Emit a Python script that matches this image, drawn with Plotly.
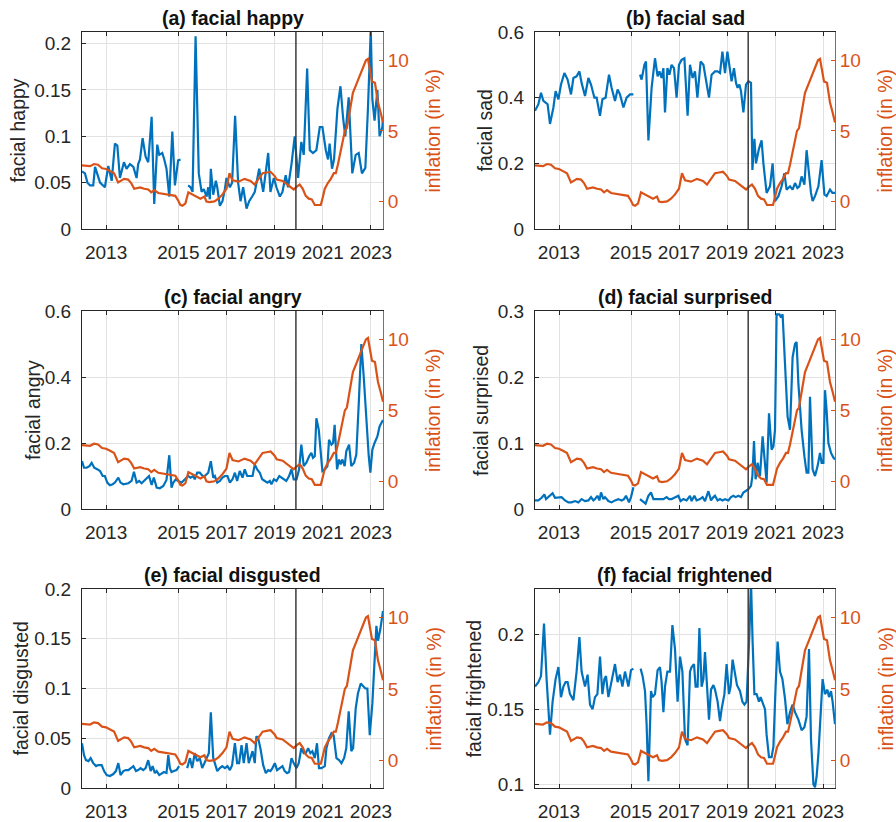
import plotly.graph_objects as go

# ---------------- data (month index: 0 = start of sample) ----------------
tick_pos = [12, 48, 72, 96, 120, 144]
tick_lab = ["2013", "2015", "2017", "2019", "2021", "2023"]
event_t = 106.6

infl_t = [0, 2, 4, 6, 8, 10, 12, 14, 16, 18, 19.5, 21, 23, 24.5, 26, 27.5, 29, 31, 33, 34.5,
          36, 38, 40, 42, 45, 46.5, 48, 49, 50, 51.5, 53, 55, 57, 59, 61, 62, 63.5, 66, 68, 70,
          72, 73.5, 75, 78, 81, 84, 86, 88, 90, 92, 94, 96, 97, 100, 102.5, 104, 105.5, 107, 108.5, 110,
          111.5, 113, 114.5, 116, 119, 120, 121, 122.5, 124, 125.5, 126.5, 127.5, 128.5, 130, 131, 132, 133, 134, 135, 137,
          138.5, 140, 141.5, 142.5, 143.5, 144.5, 146, 147.5, 149, 150]
infl_v = [2.55, 2.5, 2.5, 2.65, 2.6, 2.35, 2.3, 2.15, 2.0, 1.35, 1.45, 1.6, 1.55, 1.3, 0.9, 0.95, 1.0, 0.9, 0.85, 0.65,
          0.8, 0.6, 0.55, 0.5, 0.45, 0.4, 0.05, -0.25, -0.3, -0.15, 0.65, 0.5, 0.4, 0.2, 0.35, 0.0, -0.05, 0.0, 0.2, 0.5,
          0.9, 2.0, 1.5, 1.4, 1.6, 1.45, 1.2, 1.6, 2.0, 2.05, 2.1, 1.8, 1.55, 1.45, 1.2, 1.05, 0.85, 1.05, 1.2, 0.9,
          0.4, 0.2, 0.15, -0.25, -0.25, 0.3, 0.9, 1.3, 1.6, 2.0, 2.0, 2.6, 3.3, 4.5, 5.0, 5.2, 6.0, 7.0, 7.7, 8.4,
          8.9, 9.4, 10.0, 10.1, 9.3, 8.5, 8.4, 7.0, 6.2, 5.6]

happy_t = [0, 1.5, 2.7, 4.0, 5.6, 6.5, 9.0, 11.4, 13.1, 14.8, 16.4, 17.6, 18.9, 20.9, 22.2, 23.9, 25.6, 27.2, 28.0, 28.9,
           30.2, 31.7, 33.0, 34.7, 36.0, 37.5, 38.5, 40.0, 41.0, 42.1, 43.5, 45.0, 46.3, 47.9, 49.1, 51.0, 52.9, 54.1, 55.1, 56.6,
           58.2, 59.6, 60.7, 62.1, 62.9, 63.7, 64.2, 65.4, 66.7, 67.4, 68.7, 70.0, 71.2, 72.0, 73.7, 74.8, 76.3, 77.8, 79.0, 80.3,
           82.0, 83.3, 84.8, 86.1, 88.3, 89.4, 90.3, 92.8, 93.9, 95.6, 96.9, 98.6, 99.9, 101.5, 102.7, 104.4, 106.0, 107.7, 109.3, 110.5,
           112.2, 113.5, 115.1, 116.8, 118.5, 119.8, 121.5, 122.6, 123.4, 124.6, 125.6, 127.3, 128.8, 130.1, 131.2, 132.9, 134.7, 136.4, 137.9, 139.5,
           141.2, 142.5, 143.9, 144.7, 145.8, 147.2, 148.3, 149.7, 150.0]
happy_v = [0.062, 0.060, 0.050, 0.047, 0.047, 0.067, 0.050, 0.045, 0.068, 0.052, 0.092, 0.090, 0.055, 0.072, 0.065, 0.070, 0.067, 0.055, 0.070, 0.075,
           0.098, 0.078, 0.072, 0.121, 0.027, 0.091, 0.080, 0.082, 0.075, 0.065, 0.035, 0.105, 0.047, 0.074, 0.075, None, 0.047, 0.045, 0.040, 0.208,
           0.060, 0.040, 0.043, 0.035, 0.045, 0.032, 0.065, 0.037, 0.052, 0.045, 0.025, 0.030, 0.043, 0.055, 0.045, 0.050, 0.122, 0.050, 0.030, 0.045,
           0.022, 0.030, 0.035, 0.040, 0.065, 0.050, 0.040, 0.082, 0.040, 0.055, 0.045, 0.035, 0.040, 0.058, 0.045, 0.070, 0.100, 0.055, 0.094, 0.080,
           0.173, 0.085, 0.082, 0.085, 0.110, 0.110, 0.085, 0.075, 0.092, 0.065, 0.075, 0.130, 0.154, 0.120, 0.100, 0.142, 0.060, 0.080, 0.082, 0.060,
           0.066, 0.130, 0.215, 0.140, 0.117, 0.150, 0.100, 0.110, 0.120]

sad_t = [0, 1.7, 3.0, 4.2, 5.3, 6.3, 7.5, 9.2, 10.3, 11.7, 13.0, 14.7, 16.3, 18.0, 19.2, 20.8, 22.2, 23.3, 25.0, 26.7,
         28.0, 29.7, 30.8, 32.5, 33.7, 35.3, 37.0, 38.3, 40.0, 41.3, 42.5, 44.2, 45.8, 47.5, 49.2, 51.0, 52.5, 53.3, 54.7, 55.5,
         56.7, 58.3, 60.0, 61.3, 62.2, 63.3, 64.2, 65.0, 66.2, 67.2, 68.3, 69.5, 70.8, 72.0, 73.3, 74.7, 76.3, 77.5, 78.8, 80.0,
         81.2, 82.8, 84.2, 85.8, 87.0, 88.3, 90.0, 91.3, 92.5, 93.7, 95.0, 96.2, 97.2, 98.3, 99.5, 100.5, 101.3, 102.2, 103.0, 104.2,
         105.5, 106.7, 108.0, 108.7, 109.7, 110.5, 112.0, 113.3, 114.2, 115.8, 117.5, 118.8, 120.0, 121.7, 123.3, 124.7, 125.8, 127.5, 128.8, 130.0,
         131.2, 132.2, 133.3, 134.7, 135.8, 137.2, 138.0, 138.8, 140.0, 141.7, 143.3, 144.7, 145.8, 147.5, 148.7, 150.0]
sad_v = [0.36, 0.38, 0.415, 0.39, 0.385, 0.38, 0.32, 0.37, 0.42, 0.395, 0.44, 0.475, 0.455, 0.41, 0.46, 0.465, 0.48, 0.445, 0.405, 0.46,
         0.44, 0.40, 0.40, 0.345, 0.395, 0.40, 0.47, 0.43, 0.39, 0.425, 0.41, 0.37, 0.40, 0.41, 0.41, None, 0.47, 0.455, 0.50, 0.51,
         0.27, 0.43, 0.52, 0.465, 0.48, 0.46, 0.49, 0.355, 0.49, 0.47, 0.50, 0.49, 0.40, 0.50, 0.515, 0.52, 0.345, 0.50, 0.46, 0.48,
         0.40, 0.51, 0.50, 0.435, 0.40, 0.47, 0.48, 0.48, 0.475, 0.54, 0.475, 0.54, 0.49, 0.45, 0.49, 0.445, 0.43, 0.44, 0.42, 0.355,
         0.44, 0.45, 0.445, 0.18, 0.275, 0.20, 0.245, 0.27, 0.20, 0.11, 0.13, 0.20, 0.085, 0.10, 0.13, 0.17, 0.12, 0.13, 0.12, 0.14,
         0.125, 0.13, 0.16, 0.135, 0.24, 0.15, 0.11, 0.085, 0.10, 0.13, 0.21, 0.105, 0.10, 0.12, 0.11, 0.11]

angry_t = [0, 1.0, 2.3, 3.7, 4.8, 6.1, 7.8, 9.0, 10.3, 11.4, 12.6, 13.9, 15.3, 16.4, 18.1, 19.2, 20.6, 23.1, 24.7, 25.9,
           27.2, 28.5, 29.7, 30.9, 32.2, 33.4, 34.7, 35.8, 37.2, 38.8, 40.5, 42.1, 43.5, 44.6, 45.5, 46.8, 47.9, 49.6, 51.3, 52.9,
           54.1, 55.4, 56.2, 57.4, 58.7, 60.1, 61.2, 62.9, 64.2, 65.4, 66.2, 67.4, 68.7, 70.0, 71.2, 72.5, 73.7, 75.0, 76.2, 77.3,
           78.6, 80.0, 81.1, 82.3, 83.6, 85.0, 86.1, 87.3, 88.6, 89.8, 91.1, 92.4, 93.6, 94.4, 95.6, 96.9, 98.3, 99.4, 100.5, 101.8,
           103.2, 104.4, 105.5, 106.9, 108.2, 109.3, 110.5, 111.8, 113.2, 114.3, 115.1, 116.0, 116.8, 118.0, 119.0, 119.8, 121.0, 122.3, 123.1, 124.3,
           125.1, 125.9, 127.1, 128.1, 128.9, 129.7, 130.9, 131.7, 133.1, 134.2, 135.6, 136.7, 138.0, 139.2, 140.4, 141.7, 142.9, 143.7, 144.7, 145.8,
           147.2, 148.3, 150.0]
angry_v = [0.145, 0.125, 0.125, 0.13, 0.14, 0.125, 0.12, 0.115, 0.10, 0.10, 0.08, 0.072, 0.075, 0.08, 0.095, 0.08, 0.075, 0.078, 0.085, 0.113,
           0.08, 0.085, 0.078, 0.085, 0.09, 0.10, 0.073, 0.095, 0.065, 0.063, 0.07, 0.088, 0.163, 0.065, 0.08, 0.09, 0.085, 0.08, 0.09, 0.10,
           0.095, 0.10, 0.09, 0.11, 0.11, 0.10, 0.10, 0.11, 0.145, 0.095, 0.10, 0.08, 0.085, 0.095, 0.10, 0.10, 0.08, 0.09, 0.11, 0.085,
           0.115, 0.095, 0.12, 0.10, 0.10, 0.10, 0.135, 0.12, 0.11, 0.09, 0.085, 0.08, 0.085, 0.075, 0.09, 0.085, 0.10, 0.095, 0.09, 0.085,
           0.10, 0.12, 0.09, 0.09, 0.12, 0.195, 0.13, 0.14, 0.16, 0.17, 0.155, 0.16, 0.275, 0.24, 0.17, 0.115, 0.12, 0.13, 0.21, 0.195,
           0.20, 0.255, 0.12, 0.15, 0.135, 0.15, 0.13, 0.175, 0.195, 0.13, 0.14, 0.165, 0.33, 0.50, 0.40, 0.27, 0.16, 0.11, 0.18, 0.20,
           0.22, 0.25, 0.27]

surprised_t = [0, 1.7, 3.3, 4.7, 5.5, 6.7, 7.5, 8.8, 10.0, 11.7, 13.3, 15.0, 16.7, 18.3, 20.0, 21.7, 23.3, 25.0, 26.7, 28.0,
               29.2, 30.0, 31.2, 32.2, 33.0, 34.2, 35.0, 36.7, 38.3, 40.0, 41.7, 43.3, 44.5, 45.5, 47.0, 48.0, 49.2, 51.0, 52.5, 53.8,
               55.3, 56.7, 58.0, 59.2, 60.8, 62.5, 64.2, 65.8, 67.0, 68.3, 70.0, 71.7, 72.8, 74.2, 75.8, 77.5, 78.3, 79.7, 80.8, 82.5,
               83.8, 85.0, 86.7, 88.0, 89.2, 90.0, 91.3, 92.5, 93.7, 95.0, 96.7, 98.0, 99.2, 100.3, 101.7, 103.0, 104.2, 105.5, 106.7, 108.0,
               108.7, 109.5, 110.3, 111.3, 112.5, 113.8, 115.0, 115.8, 117.0, 118.3, 119.2, 120.0, 120.8, 122.2, 123.0, 123.8, 125.0, 126.3, 127.5, 128.8,
               130.0, 130.8, 131.7, 133.3, 134.7, 135.8, 136.7, 137.5, 138.8, 140.0, 141.3, 142.5, 143.3, 144.2, 145.0, 145.8, 146.7, 148.0, 149.2, 150.0]
surprised_v = [0.013, 0.013, 0.017, 0.022, 0.015, 0.018, 0.020, 0.024, 0.017, 0.018, 0.018, 0.013, 0.010, 0.010, 0.012, 0.010, 0.015, 0.012, 0.013, 0.018,
               0.013, 0.015, 0.020, 0.013, 0.025, 0.015, 0.018, 0.012, 0.010, 0.013, 0.015, 0.013, 0.015, 0.020, 0.010, 0.018, 0.033, None, 0.015, 0.012,
               0.008, 0.020, 0.025, 0.015, 0.015, 0.015, 0.015, 0.018, 0.015, 0.015, 0.018, 0.020, 0.012, 0.015, 0.013, 0.020, 0.012, 0.020, 0.013, 0.015,
               0.018, 0.012, 0.027, 0.013, 0.018, 0.020, 0.013, 0.015, 0.013, 0.015, 0.013, 0.018, 0.020, 0.018, 0.020, 0.018, 0.025, 0.028, 0.030, 0.035,
               0.050, 0.103, 0.045, 0.070, 0.050, 0.110, 0.070, 0.040, 0.145, 0.090, 0.095, 0.120, 0.295, 0.295, 0.290, 0.295, 0.220, 0.140, 0.120, 0.230,
               0.250, 0.253, 0.190, 0.120, 0.080, 0.055, 0.055, 0.170, 0.060, 0.050, 0.065, 0.085, 0.070, 0.070, 0.180, 0.150, 0.100, 0.085, 0.078, 0.075]

disgusted_t = [0, 1.0, 2.0, 3.2, 4.3, 5.6, 7.0, 8.1, 9.8, 11.0, 12.3, 13.9, 15.6, 16.9, 18.1, 19.2, 20.6, 21.9, 23.1, 24.4,
               25.6, 26.9, 28.0, 29.2, 30.5, 31.7, 33.0, 34.2, 35.2, 36.3, 37.2, 38.5, 39.7, 40.8, 42.1, 43.0, 43.8, 44.6, 45.8, 47.1,
               48.4, 50.4, 52.4, 53.8, 54.9, 56.2, 57.4, 58.7, 59.9, 60.9, 62.1, 63.2, 64.2, 65.4, 66.2, 67.4, 68.7, 69.9, 71.2, 72.5,
               73.7, 74.8, 76.2, 77.3, 78.3, 79.5, 80.6, 82.0, 83.1, 84.0, 85.0, 86.1, 86.9, 87.8, 88.9, 90.3, 91.6, 92.8, 93.9, 94.9,
               96.1, 97.2, 98.6, 99.9, 101.0, 102.2, 103.2, 104.4, 105.5, 106.9, 108.0, 109.3, 110.5, 111.5, 112.7, 113.8, 114.8, 116.0, 117.1, 118.1,
               119.3, 121.0, 121.8, 123.1, 124.3, 125.4, 126.8, 128.1, 129.3, 130.6, 131.7, 132.9, 134.2, 135.1, 136.4, 137.5, 138.9, 140.0, 141.2, 142.2,
               143.4, 144.7, 145.8, 146.7, 147.5, 148.7, 150.0]
disgusted_v = [0.045, 0.033, 0.028, 0.027, 0.030, 0.025, 0.022, 0.023, 0.023, 0.017, 0.013, 0.012, 0.014, 0.017, 0.025, 0.013, 0.017, 0.018, 0.018, 0.020,
               0.022, 0.017, 0.018, 0.020, 0.018, 0.020, 0.028, 0.017, 0.022, 0.015, 0.017, 0.013, 0.015, 0.016, 0.015, 0.033, 0.020, 0.016, 0.017, 0.018,
               0.022, None, 0.020, 0.030, 0.020, 0.035, 0.027, 0.030, 0.020, 0.025, 0.030, 0.035, 0.076, 0.030, 0.025, 0.017, 0.020, 0.022, 0.020, 0.022,
               0.018, 0.023, 0.045, 0.025, 0.025, 0.043, 0.025, 0.045, 0.025, 0.030, 0.037, 0.025, 0.052, 0.050, 0.040, 0.023, 0.015, 0.018, 0.017, 0.020,
               0.025, 0.018, 0.020, 0.022, 0.017, 0.015, 0.016, 0.030, 0.025, 0.020, 0.025, 0.040, 0.035, 0.035, 0.040, 0.035, 0.037, 0.030, 0.045, 0.020,
               0.020, 0.022, 0.040, 0.050, 0.055, 0.053, 0.030, 0.028, 0.025, 0.030, 0.040, 0.077, 0.037, 0.040, 0.080, 0.095, 0.105, 0.103, 0.100, 0.100,
               0.053, 0.085, 0.125, 0.163, 0.148, 0.160, 0.178]

frightened_t = [0, 1.7, 3.0, 4.5, 5.8, 7.5, 8.8, 10.3, 11.7, 13.0, 14.2, 15.3, 16.3, 17.5, 19.2, 20.8, 22.2, 23.3, 25.0, 26.3,
                27.5, 28.8, 30.0, 31.2, 32.5, 33.7, 34.7, 35.5, 36.7, 38.3, 40.0, 41.3, 42.5, 43.7, 45.0, 46.7, 48.0, 49.2, 51.0, 52.8,
                53.8, 55.0, 55.8, 56.7, 58.0, 58.8, 60.0, 61.3, 62.5, 63.3, 64.2, 65.0, 66.2, 67.5, 68.7, 70.0, 71.3, 72.5, 73.7, 75.0,
                76.3, 77.5, 78.3, 79.5, 80.3, 81.3, 82.2, 83.3, 84.2, 85.0, 85.8, 87.0, 88.0, 89.2, 90.0, 91.3, 92.5, 93.3, 94.7, 95.8,
                97.0, 97.8, 98.8, 100.0, 101.0, 102.5, 103.7, 104.7, 105.8, 107.2, 108.0, 108.8, 109.7, 110.8, 112.0, 112.8, 113.7, 115.0, 115.8, 117.0,
                118.3, 119.2, 120.3, 121.3, 122.5, 123.7, 125.0, 126.2, 127.5, 128.8, 130.0, 131.7, 133.3, 134.7, 135.8, 137.0, 138.0, 139.2, 140.0, 140.8,
                141.7, 142.8, 143.8, 145.0, 146.2, 147.0, 148.0, 148.8, 150.0]
frightened_v = [0.165, 0.168, 0.172, 0.207, 0.170, 0.133, 0.155, 0.170, 0.178, 0.158, 0.165, 0.168, 0.168, 0.160, 0.156, 0.175, 0.198, 0.175, 0.165, 0.173,
                0.153, 0.150, 0.158, 0.160, 0.185, 0.160, 0.170, 0.172, 0.158, 0.168, 0.180, 0.168, 0.173, 0.165, 0.175, 0.165, 0.176, 0.177, None, 0.177,
                0.172, 0.162, 0.140, 0.102, 0.162, 0.158, 0.160, 0.176, 0.178, 0.168, 0.148, 0.165, 0.175, 0.175, 0.206, 0.190, 0.155, 0.185, 0.175, 0.130,
                0.126, 0.175, 0.178, 0.180, 0.165, 0.165, 0.204, 0.165, 0.170, 0.188, 0.170, 0.143, 0.163, 0.166, 0.163, 0.155, 0.142, 0.150, 0.160, 0.180,
                0.160, 0.165, 0.183, 0.175, 0.166, 0.162, 0.155, 0.153, 0.155, 0.200, 0.235, 0.195, 0.160, 0.160, 0.155, 0.158, 0.155, 0.150, 0.133, 0.118,
                0.118, 0.125, 0.165, 0.195, 0.175, 0.170, 0.157, 0.140, 0.148, 0.153, 0.148, 0.143, 0.136, 0.138, 0.145, 0.190, 0.130, 0.100, 0.098, 0.105,
                0.120, 0.145, 0.170, 0.160, 0.163, 0.158, 0.162, 0.155, 0.140]

titles = ["(a) facial happy", "(b) facial sad", "(c) facial angry",
          "(d) facial surprised", "(e) facial disgusted", "(f) facial frightened"]
ylabels = ["facial happy", "facial sad", "facial angry",
           "facial surprised", "facial disgusted", "facial frightened"]
series_t = [happy_t, sad_t, angry_t, surprised_t, disgusted_t, frightened_t]
series_v = [happy_v, sad_v, angry_v, surprised_v, disgusted_v, frightened_v]
left_ranges = [[0, 0.2125], [0, 0.6], [0, 0.6], [0, 0.3], [0, 0.2], [0.0975, 0.23]]
left_ticks = [[0, 0.05, 0.1, 0.15, 0.2], [0, 0.2, 0.4, 0.6], [0, 0.2, 0.4, 0.6],
              [0, 0.1, 0.2, 0.3], [0, 0.05, 0.1, 0.15, 0.2], [0.1, 0.15, 0.2]]
left_ticktext = [["0", "0.05", "0.1", "0.15", "0.2"], ["0", "0.2", "0.4", "0.6"], ["0", "0.2", "0.4", "0.6"],
                 ["0", "0.1", "0.2", "0.3"], ["0", "0.05", "0.1", "0.15", "0.2"], ["0.1", "0.15", "0.2"]]
right_range = [-1.95, 12]
right_ticks = [0, 5, 10]

for t, v in zip(series_t, series_v):
    assert len(t) == len(v), (len(t), len(v))
assert len(infl_t) == len(infl_v)

# ---------------- styling / layout ----------------
W, H = 896, 822
BLUE = "#0072BD"
ORANGE = "#D95319"
DARK = "#262626"
GRID = "#e2e2e2"
FONT = "Liberation Sans"

col_px = [(82, 383), (535, 835)]
row_px = [(32, 229), (311, 509), (589, 788)]
ylab_px = [18, 485, 33, 481, 20, 473]
rlab_px = [433, 885, 433, 885, 433, 885]

fig = go.Figure()
annotations = []
shapes = []
layout = {}


def ax_id(letter, n):
    return letter if n == 1 else f"{letter}{n}"


for i in range(6):
    r, c = divmod(i, 2)
    xl, xr = col_px[c]
    yt, yb = row_px[r]
    xd = [xl / W, xr / W]
    yd = [1 - yb / H, 1 - yt / H]
    n = i + 1
    xa, ya, ya2 = ax_id("x", n), ax_id("y", n), ax_id("y", n + 6)

    fig.add_trace(go.Scatter(x=series_t[i], y=series_v[i], mode="lines",
                             line=dict(color=BLUE, width=2.2), xaxis=xa, yaxis=ya,
                             connectgaps=False, showlegend=False, hoverinfo="skip"))
    fig.add_trace(go.Scatter(x=infl_t, y=infl_v, mode="lines",
                             line=dict(color=ORANGE, width=2.2), xaxis=xa, yaxis=ya2,
                             showlegend=False, hoverinfo="skip"))

    layout["xaxis" if n == 1 else f"xaxis{n}"] = dict(
        domain=xd, anchor=ya, range=[0, 150], automargin=False,
        tickmode="array", tickvals=tick_pos, ticktext=tick_lab,
        ticks="inside", ticklen=4, tickcolor=DARK, tickwidth=1,
        showline=True, linecolor=DARK, linewidth=1, mirror="ticks",
        showgrid=True, gridcolor=GRID, gridwidth=1, zeroline=False,
        tickfont=dict(family=FONT, size=19, color=DARK),
        ticklabelstandoff=6)
    layout["yaxis" if n == 1 else f"yaxis{n}"] = dict(
        domain=yd, anchor=xa, range=left_ranges[i], automargin=False,
        tickmode="array", tickvals=left_ticks[i], ticktext=left_ticktext[i],
        ticks="inside", ticklen=4, tickcolor=DARK, tickwidth=1,
        showline=True, linecolor=DARK, linewidth=1,
        showgrid=True, gridcolor=GRID, gridwidth=1, zeroline=False,
        tickfont=dict(family=FONT, size=19, color=DARK),
        ticklabelstandoff=6)
    layout[f"yaxis{n + 6}"] = dict(
        overlaying=ya, anchor=xa, side="right", range=right_range, automargin=False,
        tickmode="array", tickvals=right_ticks,
        ticks="inside", ticklen=4, tickcolor=ORANGE, tickwidth=1,
        showline=True, linecolor=ORANGE, linewidth=1,
        showgrid=False, zeroline=False,
        tickfont=dict(family=FONT, size=19, color=ORANGE),
        ticklabelstandoff=0)

    shapes.append(dict(type="line", xref=xa, yref=f"{ya} domain", x0=event_t, x1=event_t,
                       y0=0, y1=1, line=dict(color="#3c3c3c", width=1.5), layer="above"))

    annotations.append(dict(text=f"<b>{titles[i]}</b>", xref="paper", yref="paper",
                            x=(xd[0] + xd[1]) / 2, y=yd[1], xanchor="center", yanchor="middle",
                            yshift=14, showarrow=False,
                            font=dict(family=FONT, size=19.5, color="#111111")))
    ymid = (yd[0] + yd[1]) / 2
    annotations.append(dict(text=ylabels[i], xref="paper", yref="paper",
                            x=ylab_px[i] / W, y=ymid, xanchor="center", yanchor="middle",
                            textangle=-90, showarrow=False,
                            font=dict(family=FONT, size=19.5, color=DARK)))
    annotations.append(dict(text="inflation (in %)", xref="paper", yref="paper",
                            x=rlab_px[i] / W, y=ymid, xanchor="center", yanchor="middle",
                            textangle=-90, showarrow=False,
                            font=dict(family=FONT, size=19.5, color=ORANGE)))

fig.update_layout(width=W, height=H, margin=dict(l=0, r=0, t=0, b=0, autoexpand=False),
                  paper_bgcolor="white", plot_bgcolor="white",
                  annotations=annotations, shapes=shapes, **layout)

fig.write_html("out.html")
